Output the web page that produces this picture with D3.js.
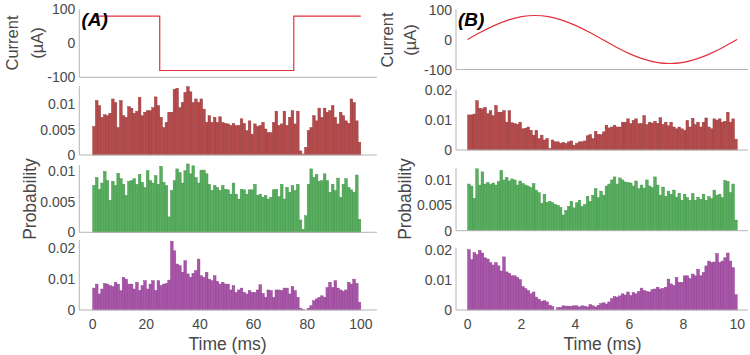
<!DOCTYPE html>
<html><head><meta charset="utf-8">
<script src="https://cdn.jsdelivr.net/npm/d3@7"></script>
<style>body{margin:0;background:#fff} text{font-family:"Liberation Sans",Arial,sans-serif}</style>
</head><body><svg id="c" width="750" height="355"></svg>
<script>
// ---------------- data ----------------
const squareT = [0, 25, 25, 75, 75, 100];
const squareI = [80, 80, -80, -80, 80, 80];
const sineT = [0,0.5,1,1.5,2,2.5,3,3.5,4,4.5,5,5.5,6,6.5,7,7.5,8,8.5,9,9.5,10];
const sineI = [0,24.7,47,64.7,76.1,80,76.1,64.7,47,24.7,0,-24.7,-47,-64.7,-76.1,-80,-76.1,-64.7,-47,-24.7,0];
const binA = 1;    // ms
const binB = 0.1;  // ms
const redA = [0.0056,0.0107,0.0097,0.0074,0.0079,0.0077,0.0082,0.0110,0.0103,0.0054,
 0.0107,0.0077,0.0074,0.0095,0.0092,0.0082,0.0086,0.0113,0.0077,0.0084,
 0.0087,0.0087,0.0093,0.0114,0.0097,0.0074,0.0054,0.0064,0.0084,0.0084,
 0.0129,0.0131,0.0093,0.0103,0.0123,0.0134,0.0124,0.0103,0.0110,0.0103,
 0.0110,0.0090,0.0064,0.0077,0.0064,0.0074,0.0064,0.0075,0.0064,0.0062,
 0.0061,0.0058,0.0062,0.0058,0.0058,0.0071,0.0062,0.0048,0.0067,0.0041,
 0.0061,0.0056,0.0058,0.0064,0.0051,0.0044,0.0044,0.0064,0.0086,0.0058,
 0.0061,0.0086,0.0058,0.0074,0.0087,0.0061,0.0086,0.0008,0.0002,0.0015,
 0.0048,0.0054,0.0077,0.0067,0.0092,0.0074,0.0092,0.0084,0.0087,0.0097,
 0.0074,0.0061,0.0084,0.0077,0.0067,0.0062,0.0110,0.0103,0.0067,0.0025];
const greenA = [0.0076,0.0089,0.0070,0.0080,0.0099,0.0084,0.0052,0.0083,0.0076,0.0096,
 0.0087,0.0078,0.0060,0.0083,0.0084,0.0087,0.0078,0.0094,0.0081,0.0073,
 0.0100,0.0084,0.0080,0.0092,0.0078,0.0107,0.0081,0.0076,0.0025,0.0068,
 0.0084,0.0103,0.0097,0.0080,0.0100,0.0111,0.0095,0.0108,0.0089,0.0080,
 0.0101,0.0101,0.0095,0.0078,0.0068,0.0076,0.0073,0.0068,0.0076,0.0070,
 0.0069,0.0062,0.0080,0.0062,0.0054,0.0070,0.0069,0.0062,0.0069,0.0069,
 0.0078,0.0060,0.0062,0.0057,0.0060,0.0054,0.0057,0.0069,0.0070,0.0058,
 0.0078,0.0054,0.0073,0.0065,0.0076,0.0068,0.0078,0.0020,0.0005,0.0027,
 0.0078,0.0103,0.0089,0.0094,0.0083,0.0084,0.0095,0.0084,0.0065,0.0078,
 0.0068,0.0088,0.0057,0.0078,0.0087,0.0073,0.0069,0.0065,0.0093,0.0021];
const purpleA = [0.0071,0.0084,0.0052,0.0068,0.0086,0.0084,0.0079,0.0076,0.0090,0.0084,
 0.0063,0.0106,0.0100,0.0084,0.0084,0.0068,0.0090,0.0063,0.0079,0.0095,
 0.0068,0.0084,0.0095,0.0063,0.0095,0.0079,0.0084,0.0086,0.0097,0.0223,
 0.0192,0.0149,0.0144,0.0122,0.0160,0.0117,0.0106,0.0119,0.0128,0.0165,
 0.0111,0.0106,0.0122,0.0100,0.0095,0.0111,0.0093,0.0084,0.0090,0.0084,
 0.0084,0.0065,0.0079,0.0057,0.0065,0.0071,0.0057,0.0052,0.0063,0.0057,
 0.0057,0.0065,0.0082,0.0054,0.0041,0.0065,0.0063,0.0041,0.0065,0.0065,
 0.0063,0.0071,0.0071,0.0052,0.0076,0.0063,0.0041,0.0006,0.0002,0.0000,
 0.0006,0.0014,0.0030,0.0036,0.0041,0.0046,0.0041,0.0073,0.0090,0.0073,
 0.0095,0.0071,0.0065,0.0061,0.0065,0.0090,0.0084,0.0100,0.0086,0.0025];
const redB = [0.0116,0.0116,0.0119,0.0163,0.0138,0.0136,0.0141,0.0120,0.0130,0.0114,
 0.0147,0.0125,0.0125,0.0130,0.0092,0.0130,0.0090,0.0087,0.0084,0.0092,
 0.0070,0.0072,0.0076,0.0065,0.0049,0.0065,0.0038,0.0049,0.0033,0.0038,
 0.0005,0.0033,0.0027,0.0027,0.0022,0.0025,0.0022,0.0027,0.0030,0.0016,
 0.0022,0.0027,0.0027,0.0030,0.0047,0.0051,0.0038,0.0062,0.0051,0.0051,
 0.0060,0.0082,0.0073,0.0076,0.0082,0.0076,0.0076,0.0092,0.0092,0.0103,
 0.0087,0.0098,0.0103,0.0087,0.0087,0.0114,0.0084,0.0092,0.0089,0.0095,
 0.0088,0.0107,0.0085,0.0092,0.0080,0.0092,0.0076,0.0070,0.0076,0.0070,
 0.0065,0.0098,0.0076,0.0105,0.0084,0.0092,0.0076,0.0092,0.0106,0.0076,
 0.0070,0.0103,0.0099,0.0103,0.0092,0.0095,0.0125,0.0092,0.0103,0.0036];
const greenB = [0.0092,0.0088,0.0064,0.0122,0.0090,0.0116,0.0092,0.0095,0.0091,0.0094,
 0.0090,0.0097,0.0119,0.0100,0.0105,0.0098,0.0102,0.0100,0.0090,0.0098,
 0.0093,0.0090,0.0088,0.0085,0.0093,0.0080,0.0075,0.0054,0.0072,0.0056,
 0.0058,0.0055,0.0052,0.0050,0.0046,0.0031,0.0040,0.0048,0.0058,0.0045,
 0.0055,0.0060,0.0048,0.0052,0.0068,0.0058,0.0070,0.0083,0.0065,0.0078,
 0.0070,0.0088,0.0092,0.0100,0.0106,0.0092,0.0104,0.0100,0.0096,0.0095,
 0.0094,0.0088,0.0098,0.0083,0.0090,0.0084,0.0100,0.0088,0.0085,0.0106,
 0.0090,0.0070,0.0086,0.0068,0.0078,0.0072,0.0080,0.0066,0.0074,0.0060,
 0.0072,0.0065,0.0060,0.0073,0.0060,0.0066,0.0062,0.0072,0.0060,0.0067,
 0.0063,0.0080,0.0070,0.0072,0.0065,0.0099,0.0097,0.0075,0.0092,0.0021];
const purpleB = [0.0201,0.0168,0.0192,0.0185,0.0199,0.0190,0.0174,0.0170,0.0158,0.0150,
 0.0158,0.0147,0.0130,0.0177,0.0127,0.0122,0.0114,0.0114,0.0108,0.0101,
 0.0078,0.0071,0.0065,0.0054,0.0060,0.0043,0.0036,0.0029,0.0031,0.0027,
 0.0016,0.0011,0.0000,0.0008,0.0008,0.0014,0.0013,0.0013,0.0012,0.0014,
 0.0014,0.0010,0.0014,0.0013,0.0010,0.0018,0.0014,0.0010,0.0016,0.0022,
 0.0024,0.0020,0.0027,0.0038,0.0045,0.0043,0.0047,0.0054,0.0050,0.0060,
 0.0048,0.0058,0.0054,0.0062,0.0073,0.0065,0.0062,0.0060,0.0068,0.0070,
 0.0076,0.0070,0.0072,0.0076,0.0103,0.0087,0.0082,0.0109,0.0092,0.0092,
 0.0114,0.0114,0.0105,0.0120,0.0114,0.0136,0.0114,0.0125,0.0147,0.0163,
 0.0158,0.0160,0.0188,0.0158,0.0163,0.0174,0.0190,0.0163,0.0141,0.0051];
const xTicksA = [0, 20, 40, 60, 80, 100];
const xTicksB = [0, 2, 4, 6, 8, 10];
const currentTicks = [-100, 0, 100];
const ticksRedA = [0, 0.005, 0.01];
const ticksGreenA = [0, 0.005, 0.01];
const ticksPurpleA = [0, 0.01, 0.02];
const ticksRedB = [0, 0.01, 0.02];
const ticksGreenB = [0, 0.005, 0.01];
const ticksPurpleB = [0, 0.01, 0.02];

// ---------------- drawing ----------------
const svg = d3.select("#c");
const AXC = "#b4b4b4", TXC = "#484848";
const COLORS = {
  red:    {fill: "#b64b4c", stroke: "#943b3c"},
  green:  {fill: "#58ad5f", stroke: "#3f9547"},
  purple: {fill: "#a955a9", stroke: "#8d3f8d"}
};

const xA = d3.scaleLinear().domain([-5, 106]).range([79.3, 376.9]);
const xB = d3.scaleLinear().domain([-0.43, 10.4]).range([456, 748]);

function axes(x, y, ticks) {
  const g = svg.append("g");
  const [x0, x1] = x.range();
  const [yb, yt] = y.range();
  g.append("line").attr("x1", x0).attr("x2", x1).attr("y1", yb).attr("y2", yb)
    .attr("stroke", AXC).attr("stroke-width", 1);
  g.append("line").attr("x1", x0).attr("x2", x0).attr("y1", yb).attr("y2", yt)
    .attr("stroke", AXC).attr("stroke-width", 1);
  g.selectAll("text.yt").data(ticks).enter().append("text")
    .attr("x", x0 - 4).attr("y", d => y(d)).attr("dy", "0.36em")
    .attr("text-anchor", "end").attr("font-size", 14).attr("fill", TXC)
    .text(d => String(d));
}

function hist(x, y, values, bin, color) {
  const c = COLORS[color];
  svg.append("g").selectAll("rect").data(values).enter().append("rect")
    .attr("x", (d, i) => x(i * bin))
    .attr("width", (d, i) => x((i + 1) * bin) - x(i * bin))
    .attr("y", d => y(d))
    .attr("height", d => y(0) - y(d))
    .attr("fill", c.fill).attr("stroke", c.stroke).attr("stroke-width", 0.45);
}

function xTickLabels(x, ticks) {
  svg.append("g").selectAll("text").data(ticks).enter().append("text")
    .attr("x", d => x(d)).attr("y", 328.5).attr("text-anchor", "middle")
    .attr("font-size", 14).attr("fill", TXC).text(d => String(d));
}

function vlabel(cx, cy, txt, size) {
  svg.append("text").attr("transform", `translate(${cx},${cy}) rotate(-90)`)
    .attr("text-anchor", "middle").attr("dy", "0.36em")
    .attr("font-size", size).attr("fill", TXC).text(txt);
}

// ----- column A -----
const yCurA = d3.scaleLinear().domain([-100, 100]).range([77.3, 9.3]);
const yRedA = d3.scaleLinear().domain([0, 0.0135]).range([155, 86.2]);
const yGreenA = d3.scaleLinear().domain([0, 0.0109]).range([232.3, 165.2]);
const yPurpleA = d3.scaleLinear().domain([0, 0.0227]).range([310, 240]);

hist(xA, yRedA, redA, binA, "red");
hist(xA, yGreenA, greenA, binA, "green");
hist(xA, yPurpleA, purpleA, binA, "purple");
axes(xA, yCurA, currentTicks);
axes(xA, yRedA, ticksRedA);
axes(xA, yGreenA, ticksGreenA);
axes(xA, yPurpleA, ticksPurpleA);

const lineA = d3.line().x((d, i) => xA(squareT[i])).y((d, i) => yCurA(squareI[i]));
svg.append("path").attr("d", lineA(squareT)).attr("fill", "none")
  .attr("stroke", "#e2323c").attr("stroke-width", 1.2);

xTickLabels(xA, xTicksA);

// ----- column B -----
const yCurB = d3.scaleLinear().domain([-100, 100]).range([69.5, 9.5]);
const yRedB = d3.scaleLinear().domain([0, 0.02]).range([150, 89.5]);
const yGreenB = d3.scaleLinear().domain([0, 0.0123]).range([230.7, 168.3]);
const yPurpleB = d3.scaleLinear().domain([0, 0.0207]).range([310, 247.9]);

hist(xB, yRedB, redB, binB, "red");
hist(xB, yGreenB, greenB, binB, "green");
hist(xB, yPurpleB, purpleB, binB, "purple");
axes(xB, yCurB, currentTicks);
axes(xB, yRedB, ticksRedB);
axes(xB, yGreenB, ticksGreenB);
axes(xB, yPurpleB, ticksPurpleB);

const lineB = d3.line().curve(d3.curveNatural)
  .x((d, i) => xB(sineT[i])).y((d, i) => yCurB(sineI[i]));
svg.append("path").attr("d", lineB(sineT)).attr("fill", "none")
  .attr("stroke", "#e2323c").attr("stroke-width", 1.2);

xTickLabels(xB, xTicksB);

// ----- labels -----
vlabel(12.5, 43, "Current", 16.5);
vlabel(37, 43, "(µA)", 16.5);
vlabel(387.5, 40, "Current", 16.5);
vlabel(410, 40, "(µA)", 16.5);
vlabel(29.5, 199, "Probability", 17.5);
vlabel(405, 199, "Probability", 17.5);

svg.append("text").attr("x", 227.5).attr("y", 349.5).attr("text-anchor", "middle")
  .attr("font-size", 17.5).attr("fill", TXC).text("Time (ms)");
svg.append("text").attr("x", 602.5).attr("y", 349.5).attr("text-anchor", "middle")
  .attr("font-size", 17.5).attr("fill", TXC).text("Time (ms)");

svg.append("text").attr("x", 81.5).attr("y", 26).attr("font-size", 19)
  .attr("font-weight", "bold").attr("font-style", "italic").attr("fill", "#000").text("(A)");
svg.append("text").attr("x", 458).attr("y", 26).attr("font-size", 19)
  .attr("font-weight", "bold").attr("font-style", "italic").attr("fill", "#000").text("(B)");
</script></body></html>
